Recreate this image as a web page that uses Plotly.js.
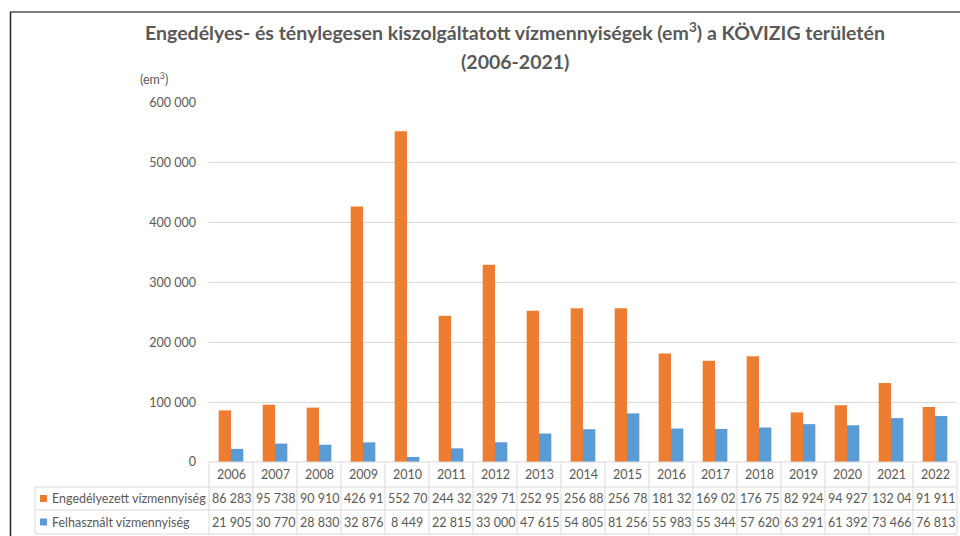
<!DOCTYPE html>
<html>
<head>
<meta charset="utf-8">
<script src="https://cdn.plot.ly/plotly-3.0.1.min.js"></script>
<style>html,body{margin:0;padding:0;background:#fff;}#chart{width:960px;height:536px;}</style>
</head>
<body>
<div id="chart"></div>
<script>
// ---- data ----
var years = ["2006","2007","2008","2009","2010","2011","2012","2013","2014","2015","2016","2017","2018","2019","2020","2021","2022"];
var engedelyezett = [86283, 95738, 90910, 426910, 552700, 244320, 329710, 252950, 256880, 256780, 181320, 169020, 176750, 82924, 94927, 132040, 91911];
var felhasznalt = [21905, 30770, 28830, 32876, 8449, 22815, 33000, 47615, 54805, 81256, 55983, 55344, 57620, 63291, 61392, 73466, 76813];
var seriesNames = ["Engedélyezett vízmennyiség", "Felhasznált vízmennyiség"];
var seriesColors = ["#ED7D31", "#5B9BD5"];
var titleLine1 = "Engedélyes- és ténylegesen kiszolgáltatott vízmennyiségek (em<sup>3</sup>) a KÖVIZIG területén";
var titleLine2 = "(2006-2021)";
var unitLabel = "(em<sup>3</sup>)";

// ---- geometry helpers (pixels -> paper) ----
var W = 960, H = 536;
var L = 209, R = 957, T = 103, B = 462;
function px(x){ return (x - L) / (R - L); }
function py(y){ return (B - y) / (B - T); }
var FONT = "Lato, 'Open Sans', sans-serif";
var TXT = "#595959";
var GRID = "#D9D9D9";

function fmt(v){
  var s = String(Math.round(v));
  var out = "";
  for (var i = 0; i < s.length; i++){
    if (i > 0 && (s.length - i) % 3 === 0) out += " ";
    out += s[i];
  }
  return out;
}
// cells are clipped like in the spreadsheet: only 6 characters fit
function cellText(v){ return fmt(v).slice(0, 6); }

var traces = [
  {type:"bar", name:seriesNames[0], x:years, y:engedelyezett, marker:{color:seriesColors[0]}, hoverinfo:"x+y"},
  {type:"bar", name:seriesNames[1], x:years, y:felhasznalt, marker:{color:seriesColors[1]}, hoverinfo:"x+y"}
];

var shapes = [];
var annotations = [];
var n = years.length;
var colW = (R - L) / n;
var rowY = [462, 487, 510, 534];
var tableLeft = 35;

// horizontal table lines
shapes.push({type:"line", xref:"paper", yref:"paper", x0:0, x1:1, y0:py(rowY[0]), y1:py(rowY[0]), line:{color:GRID, width:1}});
for (var r = 1; r < rowY.length; r++){
  shapes.push({type:"line", xref:"paper", yref:"paper", x0:px(tableLeft), x1:1, y0:py(rowY[r]), y1:py(rowY[r]), line:{color:GRID, width:1}});
}
// vertical table lines
shapes.push({type:"line", xref:"paper", yref:"paper", x0:px(tableLeft), x1:px(tableLeft), y0:py(rowY[1]), y1:py(rowY[3]), line:{color:GRID, width:1}});
for (var c = 0; c <= n; c++){
  var xx = px(L + c * colW);
  shapes.push({type:"line", xref:"paper", yref:"paper", x0:xx, x1:xx, y0:py(rowY[0]), y1:py(rowY[3]), line:{color:GRID, width:1}});
}
// legend keys in the table
for (var s = 0; s < 2; s++){
  var cy = (rowY[s+1] + rowY[s+2]) / 2;
  shapes.push({type:"rect", xref:"paper", yref:"paper", x0:px(40), x1:px(47), y0:py(cy+3.5), y1:py(cy-3.5), fillcolor:seriesColors[s], line:{width:0}});
  annotations.push({xref:"paper", yref:"paper", x:px(50), y:py(cy), xanchor:"left", yanchor:"middle", text:seriesNames[s], showarrow:false, font:{family:FONT, size:12.5, color:TXT}});
}
// table cells
for (var i = 0; i < n; i++){
  var cx = px(L + (i + 0.5) * colW);
  annotations.push({xref:"paper", yref:"paper", x:cx, y:py((rowY[0]+rowY[1])/2), xanchor:"center", yanchor:"middle", text:years[i], showarrow:false, font:{family:FONT, size:12.5, color:TXT}});
  annotations.push({xref:"paper", yref:"paper", x:cx, y:py((rowY[1]+rowY[2])/2), xanchor:"center", yanchor:"middle", text:cellText(engedelyezett[i]), showarrow:false, font:{family:FONT, size:12.5, color:TXT}});
  annotations.push({xref:"paper", yref:"paper", x:cx, y:py((rowY[2]+rowY[3])/2), xanchor:"center", yanchor:"middle", text:cellText(felhasznalt[i]), showarrow:false, font:{family:FONT, size:12.5, color:TXT}});
}
// title second line and unit label
annotations.push({xref:"paper", yref:"paper", x:px(515), y:py(62), xanchor:"center", yanchor:"middle", text:titleLine2, showarrow:false, font:{family:FONT, size:19.5, color:TXT, weight:"bold"}});
annotations.push({xref:"paper", yref:"paper", x:px(138), y:py(79), xanchor:"left", yanchor:"middle", text:unitLabel, showarrow:false, font:{family:FONT, size:12.5, color:TXT}});

// frame edges visible in the screenshot
shapes.push({type:"line", xref:"paper", yref:"paper", x0:px(10), x1:px(960), y0:py(12), y1:py(12), line:{color:"#7F7F7F", width:2}});
shapes.push({type:"line", xref:"paper", yref:"paper", x0:px(10.5), x1:px(10.5), y0:py(12), y1:py(536), line:{color:"#262626", width:1.5}});

var layout = {
  width: W, height: H,
  margin: {l: L, r: W - R, t: T, b: H - B, pad: 0},
  paper_bgcolor: "#ffffff", plot_bgcolor: "#ffffff",
  separators: ", ",
  showlegend: false,
  barmode: "group", bargap: 0.44, bargroupgap: 0,
  title: {text: titleLine1, x: 515/W, xref: "container", xanchor: "center", y: 1 - 33/H, yref: "container", yanchor: "middle",
          font: {family: FONT, size: 19.5, color: TXT, weight: "bold"}},
  xaxis: {type: "category", range: [-0.5, n - 0.5], showticklabels: false, showline: false, showgrid: false, zeroline: false, ticks: ""},
  yaxis: {range: [0, 600000], dtick: 100000, tickformat: ",d", showgrid: true, gridcolor: GRID, gridwidth: 1, zeroline: false, showline: false,
          ticks: "", ticklabelstandoff: 12, tickfont: {family: FONT, size: 12.5, color: TXT}},
  shapes: shapes,
  annotations: annotations
};

Plotly.newPlot("chart", traces, layout, {displayModeBar: false, staticPlot: true});
</script>
</body>
</html>
